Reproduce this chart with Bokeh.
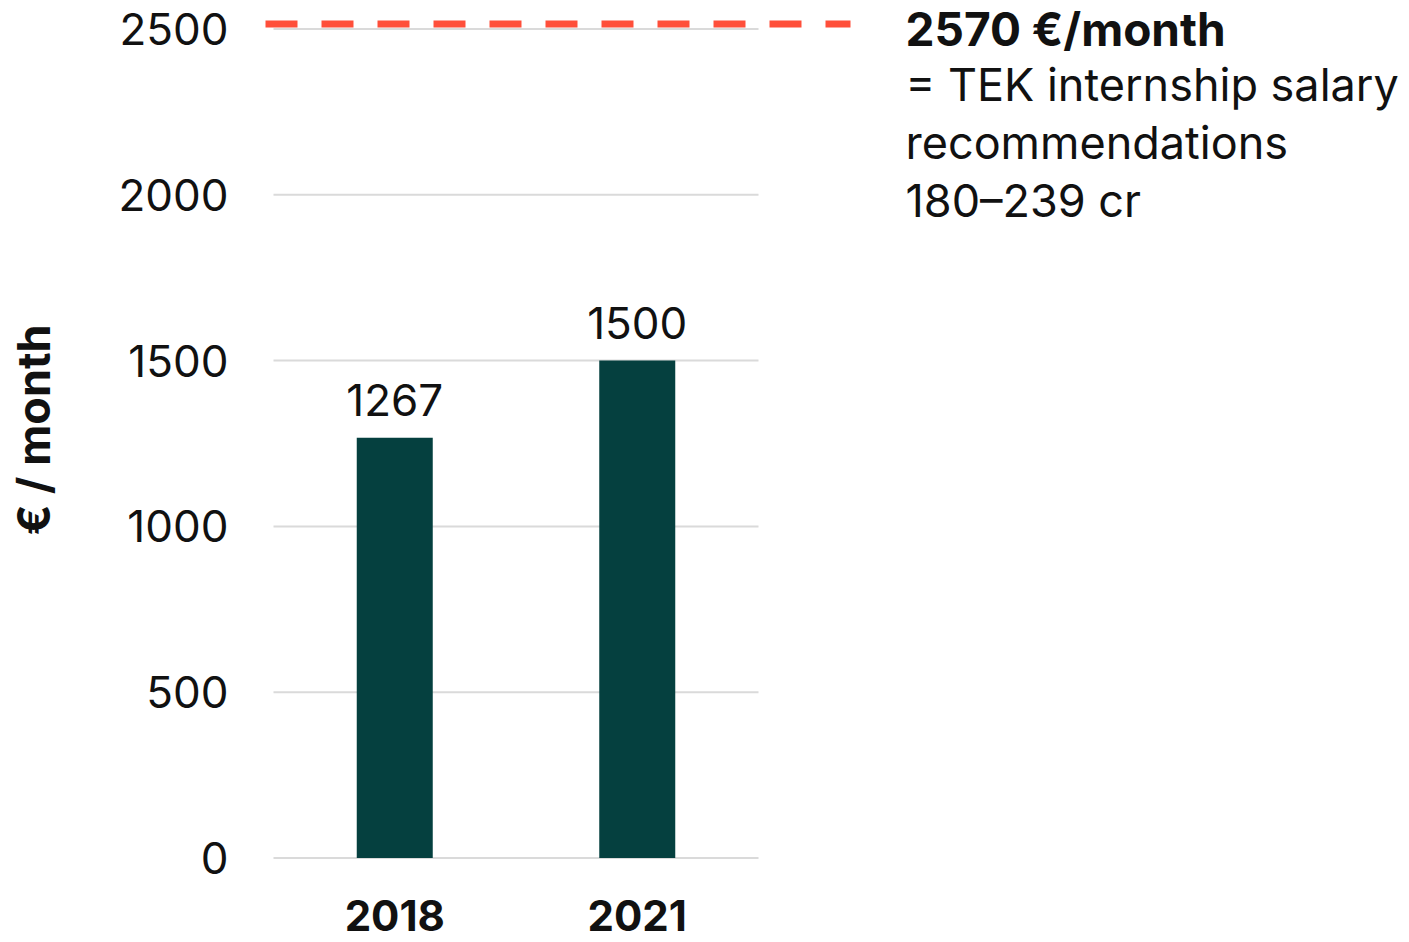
from bokeh.plotting import figure
from bokeh.models import Range1d, FixedTicker, ColumnDataSource, Title, LinearAxis
from bokeh.core.properties import value
from bokeh.embed import file_html
from bokeh.resources import INLINE

# ---- data ----
years = ["2018", "2021"]
salaries = [1267, 1500]
y_ticks = [0, 500, 1000, 1500, 2000, 2500]
tek_value = 2570
tek_line_level = 2515  # where the reference line sits in the picture
note_title = f"{tek_value} €/month"
note_lines = ["= TEK internship salary", "recommendations", "180–239 cr"]
y_title = "€ / month"

FONT = "Inter"
BAR = "#05403f"
RED = "#ff4f3a"
GRID = "#dadada"
TXT = "#111111"

W, H = 1405, 940
frame_left = 262
zero_x_px = 273
zero_y_px = 857.5
px_x = 242.5   # px per category
px_y = 0.3316  # px per euro
x_start = (frame_left - zero_x_px) / px_x
x_end = (W - zero_x_px) / px_x
y_end = zero_y_px / px_y
y_start = -(H - zero_y_px) / px_y


def shift(px, size):
    # compensate the renderer's alphabetic-baseline placement
    return px - 0.4 * size


p = figure(width=W, height=H, output_backend="svg", toolbar_location=None,
           x_range=Range1d(x_start, x_end), y_range=Range1d(y_start, y_end),
           min_border_left=frame_left, min_border_right=0, min_border_top=0,
           min_border_bottom=0)
p.outline_line_color = None
p.background_fill_color = "white"
p.border_fill_color = "white"
p.xgrid.visible = False
p.ygrid.visible = False
p.xaxis.visible = False

xc = [i + 0.5 for i in range(len(years))]

# gridlines across the category area only
p.segment(x0=[0] * len(y_ticks), x1=[len(years)] * len(y_ticks), y0=y_ticks, y1=y_ticks,
          line_color=GRID, line_width=2)

src = ColumnDataSource(dict(x=xc, top=salaries, lab=[str(v) for v in salaries], yr=years,
                            zero=[0] * len(years)))
p.vbar(x="x", top="top", bottom=0, width=76 / px_x, source=src, fill_color=BAR, line_color=None)
p.text(x="x", y="top", text="lab", source=src, text_align="center", text_baseline="alphabetic",
       y_offset=shift(-20, 44), text_font=value(FONT), text_font_size="44px", text_color=TXT)

# category labels (x axis)
p.text(x="x", y="zero", text="yr", source=src, text_align="center", text_baseline="alphabetic",
       y_offset=shift(74, 42), text_font=value(FONT), text_font_size="42px",
       text_font_style="bold", text_color=TXT)

# reference line
p.segment(x0=[-8 / px_x], x1=[len(years) + 92 / px_x], y0=[tek_line_level], y1=[tek_line_level],
          line_color=RED, line_width=7, line_dash="32 24", line_cap="butt")

# annotation
note_x = (905 - zero_x_px) / px_x
p.text(x=[note_x], y=[tek_line_level], text=[note_title], text_align="left",
       text_baseline="alphabetic", y_offset=shift(23.5, 46), text_font=value(FONT),
       text_font_size="46px", text_font_style="bold", text_color=TXT)
p.text(x=[note_x] * 3, y=[tek_line_level] * 3, text=note_lines, text_align="left",
       text_baseline="alphabetic", y_offset=[shift(v, 45) for v in (78.5, 136.5, 194.5)],
       text_font=value(FONT), text_font_size="45px", text_color=TXT)

# y axis
p.yaxis.ticker = FixedTicker(ticks=y_ticks)
p.yaxis.axis_line_color = None
p.yaxis.major_tick_line_color = None
p.yaxis.minor_tick_line_color = None
p.yaxis.major_tick_out = 0
p.yaxis.major_tick_in = 0
p.yaxis.minor_tick_out = 0
p.yaxis.major_label_standoff = 34
p.yaxis.major_label_text_font = FONT
p.yaxis.major_label_text_font_size = "44px"
p.yaxis.major_label_text_color = TXT

# blank spacer panel between the tick labels and the axis title
spacer_tick = y_ticks[0]
spacer = LinearAxis(ticker=FixedTicker(ticks=[spacer_tick]), axis_line_color=None,
                    major_tick_line_color="white", minor_tick_line_color=None,
                    major_tick_out=51, major_tick_in=0, minor_tick_out=0,
                    major_label_standoff=0, major_label_overrides={spacer_tick: ""})
p.add_layout(spacer, "left")

# y axis title
p.add_layout(Title(text=y_title, align="right", offset=324, vertical_align="top", standoff=4,
                   text_font=FONT, text_font_size="45px", text_font_style="bold",
                   text_color=TXT), "left")

open("out.html", "w").write(file_html(p, INLINE))
